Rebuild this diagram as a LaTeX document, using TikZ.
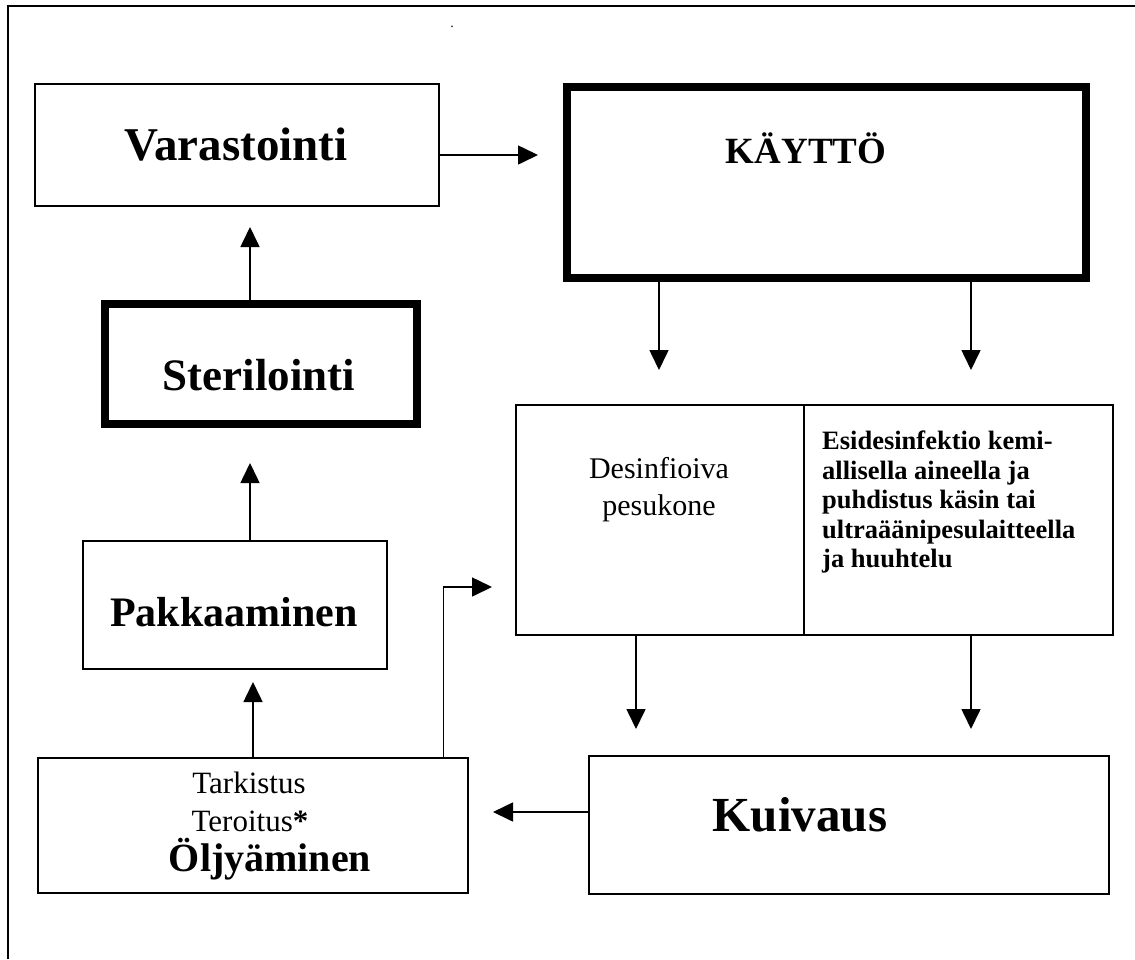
\documentclass[tikz,border=0pt]{standalone}
\usepackage{fontspec}
\setmainfont{Liberation Serif}
\usetikzlibrary{arrows.meta,calc}
\begin{document}
\begin{tikzpicture}[x=1pt,y=1pt,
  thinbox/.style={draw, line width=1.6pt, inner sep=0pt, anchor=north west},
  thickbox/.style={draw, line width=8pt, inner sep=0pt, anchor=north west},
  arr/.style={line width=1.6pt, -{Triangle[length=20pt,width=19pt]}},
  bigtxt/.style={font=\fontsize{42}{50}\selectfont\bfseries, anchor=base, inner sep=0pt},
  midtxt/.style={font=\fontsize{30}{36}\selectfont, anchor=base, inner sep=0pt},
  esitxt/.style={font=\fontsize{26.5}{29.5}\selectfont\bfseries, anchor=north west, inner sep=0pt, align=left},
]
\useasboundingbox (0,0) rectangle (1135,-959);
% frame
\draw[line width=2pt] (8,-959) -- (8,-6) -- (1135,-6);
\node[font=\fontsize{14}{16}\selectfont, inner sep=0pt] (dot) at (452,-27) {.};

% boxes
\node[thinbox, minimum width=404pt, minimum height=122pt] (var) at (34,-83) {};
\node[thickbox, minimum width=519pt, minimum height=191pt] (kay) at (563,-83) {};
\node[thickbox, minimum width=312pt, minimum height=120pt] (ster) at (101,-300) {};
\node[thinbox, minimum width=304pt, minimum height=128pt] (pak) at (82,-540) {};
\node[thinbox, minimum width=288pt, minimum height=230pt] (des) at (515,-404) {};
\node[thinbox, minimum width=309pt, minimum height=230pt] (esi) at (803,-404) {};
\node[thinbox, minimum width=520pt, minimum height=138pt] (kui) at (588,-755) {};
\node[thinbox, minimum width=430pt, minimum height=135pt] (olj) at (37,-757) {};

% texts
\node[bigtxt, font=\fontsize{47}{54}\selectfont\bfseries] (varT) at (236,-160) {Varastointi};
\node[bigtxt, font=\fontsize{37}{44}\selectfont\bfseries] (kayT) at (806,-163) {KÄYTTÖ};
\node[bigtxt, font=\fontsize{45}{52}\selectfont\bfseries] (sterT) at (259,-390) {Sterilointi};
\node[bigtxt] (pakT) at (234,-626) {Pakkaaminen};
\node[midtxt] (desT1) at (659,-478) {Desinfioiva};
\node[midtxt] (desT2) at (659,-515) {pesukone};
\node[esitxt] (esiT) at (822,-431) {Esidesinfektio kemi-\\allisella aineella ja\\puhdistus käsin tai\\ultraäänipesulaitteella\\ja huuhtelu};
\node[bigtxt, font=\fontsize{49}{56}\selectfont\bfseries] (kuiT) at (800,-831) {Kuivaus};
\node[midtxt, font=\fontsize{31}{38}\selectfont] (oljT1) at (249,-793) {Tarkistus};
\node[midtxt, font=\fontsize{31}{38}\selectfont] (oljT2) at (250,-831) {Teroitus\textbf{*}};
\node[bigtxt, font=\fontsize{40}{46}\selectfont\bfseries] (oljT3) at (270,-871) {Öljyäminen};

% arrow end points
\coordinate (t1) at (538,-155);
\coordinate (t2) at (250,-227);
\coordinate (t3) at (250,-463);
\coordinate (t4) at (253,-682);
\coordinate (t5) at (492,-587);
\coordinate (t6) at (493,-812);
\coordinate (t7) at (659,-370);
\coordinate (t8) at (971,-370);
\coordinate (t9) at (636,-729);
\coordinate (t10) at (971,-729);

% connectors
\draw[arr] (var.east |- t1) -- (t1);
\draw[arr] (t2 |- ster.north) -- (t2);
\draw[arr] (t3 |- pak.north) -- (t3);
\draw[arr] (t4 |- olj.north) -- (t4);
\draw[arr] ([xshift=-25pt]olj.north east) |- (t5);
\draw[arr] (kui.west |- t6) -- (t6);
\draw[arr] (t7 |- kay.south) -- (t7);
\draw[arr] (t8 |- kay.south) -- (t8);
\draw[arr] (t9 |- des.south) -- (t9);
\draw[arr] (t10 |- esi.south) -- (t10);
\end{tikzpicture}
\end{document}
